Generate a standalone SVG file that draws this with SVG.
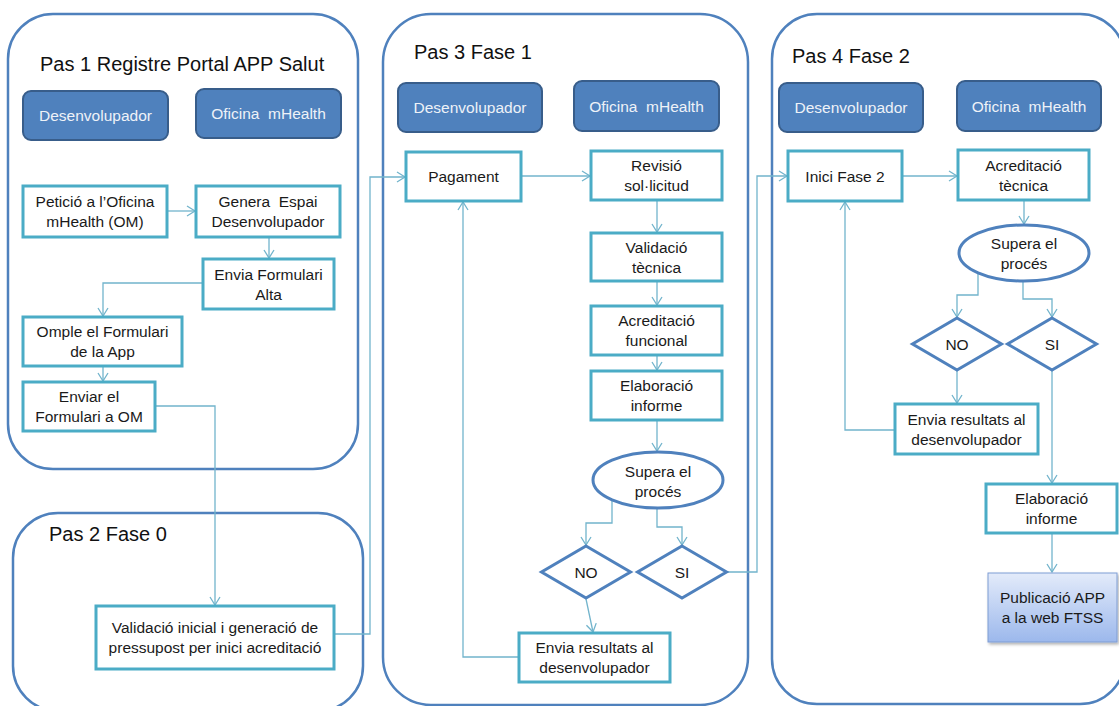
<svg xmlns="http://www.w3.org/2000/svg" width="1119" height="706" viewBox="0 0 1119 706">
<defs>
<style>
.panel{fill:none;stroke:#4F81BD;stroke-width:2.5}
.title{font-family:"Liberation Sans",Arial,sans-serif;font-size:20px;fill:#111}
.hdr rect{fill:#4F81BD;stroke:#385D8A;stroke-width:2}
.hdr text{font-family:"Liberation Sans",Arial,sans-serif;font-size:15.5px;fill:#EEF2F8;text-anchor:middle}
.box rect{fill:#fff;stroke:#4BACC6;stroke-width:3}
.dec ellipse,.dec polygon{fill:#fff;stroke:#4F81BD;stroke-width:3}
.box text,.dec text,.pub text{font-family:"Liberation Sans",Arial,sans-serif;font-size:15.5px;fill:#1a1a1a;text-anchor:middle}
.pub rect{fill:url(#pubg);stroke:#7F9DD3;stroke-width:1}
#connectors path{fill:none;stroke:#72B4CC;stroke-width:1.3;marker-end:url(#arr)}
</style>
<marker id="arr" markerUnits="userSpaceOnUse" markerWidth="12" markerHeight="12" refX="9" refY="6" orient="auto">
<path d="M1,1 L9,6 L1,11" fill="none" stroke="#72B4CC" stroke-width="1.3"/>
</marker>
<linearGradient id="pubg" x1="0" y1="0" x2="0" y2="1">
<stop offset="0" stop-color="#E3EBFA"/>
<stop offset="1" stop-color="#9CB8EC"/>
</linearGradient>
<filter id="sh" x="-10%" y="-10%" width="130%" height="130%">
<feDropShadow dx="1.5" dy="2" stdDeviation="1.5" flood-color="#000" flood-opacity="0.3"/>
</filter>
</defs>
<rect width="1119" height="706" fill="#fff"/>

<g id="panels">
<g id="panel1"><rect class="panel" x="8" y="14" width="350" height="455" rx="45" ry="45"/><text class="title" x="40" y="71">Pas 1 Registre Portal APP Salut</text></g>
<g id="panel2"><rect class="panel" x="13" y="513" width="350" height="198" rx="45" ry="45"/><text class="title" x="49" y="541">Pas 2 Fase 0</text></g>
<g id="panel3"><rect class="panel" x="383" y="14" width="365" height="691" rx="48" ry="48"/><text class="title" x="414" y="59">Pas 3 Fase 1</text></g>
<g id="panel4"><rect class="panel" x="772" y="14" width="353" height="690" rx="45" ry="45"/><text class="title" x="792" y="63">Pas 4 Fase 2</text></g>
</g>

<g id="connectors">
<path d="M167,211 H195"/>
<path d="M269,237 V258"/>
<path d="M203,283 H103 V316"/>
<path d="M103,366 V381"/>
<path d="M155,406 H215 V605"/>
<path d="M334,634 H370 V177 H405"/>
<path d="M521,176 H590"/>
<path d="M657,200 V232"/>
<path d="M657,281 V305"/>
<path d="M657,355 V370"/>
<path d="M657,420 V451"/>
<path d="M612,500 V523 H586 V545"/>
<path d="M657,508 V527 H682 V545"/>
<path d="M726,572 H757 V176 H787"/>
<path d="M586,599 L593,632"/>
<path d="M519,657 H463 V202"/>
<path d="M902,176 H957"/>
<path d="M1024,200 V224"/>
<path d="M978,273 V295 H957 V317"/>
<path d="M1023,281 V299 H1052 V317"/>
<path d="M957,370 V403"/>
<path d="M895,430 H845 V202"/>
<path d="M1052,370 V483"/>
<path d="M1052,533 V572"/>
</g>

<g id="p1-dev" class="hdr"><rect x="23" y="91" width="145" height="49" rx="8"/><text x="95.5" y="121">Desenvolupador</text></g>
<g id="p1-om" class="hdr"><rect x="196" y="89" width="145" height="49" rx="8"/><text x="268.5" y="119">Oficina&#160; mHealth</text></g>
<g id="p1-peticio" class="box"><rect x="23" y="186" width="144" height="51"/><text x="95" y="207">Petició a l’Oficina</text><text x="95" y="227">mHealth (OM)</text></g>
<g id="p1-genera" class="box"><rect x="196" y="186" width="144" height="51"/><text x="268" y="207">Genera&#160; Espai</text><text x="268" y="227">Desenvolupador</text></g>
<g id="p1-envia" class="box"><rect x="203" y="259" width="131" height="50"/><text x="268.5" y="279.5">Envia Formulari</text><text x="268.5" y="299.5">Alta</text></g>
<g id="p1-omple" class="box"><rect x="23" y="317" width="159" height="49"/><text x="102.5" y="337">Omple el Formulari</text><text x="102.5" y="357">de la App</text></g>
<g id="p1-enviar" class="box"><rect x="23" y="382" width="132" height="49"/><text x="89" y="402">Enviar el</text><text x="89" y="422">Formulari a OM</text></g>

<g id="p2-validacio" class="box"><rect x="96" y="606" width="238" height="63"/><text x="215" y="633">Validació inicial i generació de</text><text x="215" y="653">pressupost per inici acreditació</text></g>

<g id="p3-dev" class="hdr"><rect x="398" y="83" width="144" height="49" rx="8"/><text x="470" y="113">Desenvolupador</text></g>
<g id="p3-om" class="hdr"><rect x="574" y="81" width="145" height="50" rx="8"/><text x="646.5" y="112">Oficina&#160; mHealth</text></g>
<g id="p3-pagament" class="box"><rect x="406" y="152" width="115" height="49"/><text x="463.5" y="182">Pagament</text></g>
<g id="p3-revisio" class="box"><rect x="591" y="151" width="131" height="49"/><text x="656.5" y="171">Revisió</text><text x="656.5" y="191">sol·licitud</text></g>
<g id="p3-valtec" class="box"><rect x="591" y="233" width="131" height="48"/><text x="656.5" y="252.5">Validació</text><text x="656.5" y="272.5">tècnica</text></g>
<g id="p3-acrfun" class="box"><rect x="591" y="306" width="131" height="49"/><text x="656.5" y="326">Acreditació</text><text x="656.5" y="346">funcional</text></g>
<g id="p3-elab" class="box"><rect x="591" y="371" width="131" height="49"/><text x="656.5" y="391">Elaboració</text><text x="656.5" y="411">informe</text></g>
<g id="p3-supera" class="dec"><ellipse cx="658" cy="480" rx="65" ry="28"/><text x="658" y="477">Supera el</text><text x="658" y="497">procés</text></g>
<g id="p3-no" class="dec"><polygon points="586,546 630.5,572 586,598 541.5,572"/><text x="586" y="578">NO</text></g>
<g id="p3-si" class="dec"><polygon points="682,546 726.5,572 682,598 637.5,572"/><text x="682" y="578">SI</text></g>
<g id="p3-envia" class="box"><rect x="519" y="633" width="151" height="49"/><text x="594.5" y="653">Envia resultats al</text><text x="594.5" y="673">desenvolupador</text></g>

<g id="p4-dev" class="hdr"><rect x="779" y="83" width="144" height="49" rx="8"/><text x="851" y="113">Desenvolupador</text></g>
<g id="p4-om" class="hdr"><rect x="957" y="81" width="144" height="50" rx="8"/><text x="1029" y="112">Oficina&#160; mHealth</text></g>
<g id="p4-inici" class="box"><rect x="788" y="151" width="114" height="50"/><text x="845" y="182">Inici Fase 2</text></g>
<g id="p4-acrtec" class="box"><rect x="958" y="150" width="131" height="50"/><text x="1023.5" y="170.5">Acreditació</text><text x="1023.5" y="190.5">tècnica</text></g>
<g id="p4-supera" class="dec"><ellipse cx="1024" cy="253" rx="65" ry="28"/><text x="1024" y="249">Supera el</text><text x="1024" y="269">procés</text></g>
<g id="p4-no" class="dec"><polygon points="957,318 1001.5,344 957,370 912.5,344"/><text x="957" y="350">NO</text></g>
<g id="p4-si" class="dec"><polygon points="1052,318 1096.5,344 1052,370 1007.5,344"/><text x="1052" y="350">SI</text></g>
<g id="p4-envia" class="box"><rect x="895" y="404" width="143" height="50"/><text x="966.5" y="424.5">Envia resultats al</text><text x="966.5" y="444.5">desenvolupador</text></g>
<g id="p4-elab" class="box"><rect x="986" y="484" width="131" height="49"/><text x="1051.5" y="504">Elaboració</text><text x="1051.5" y="524">informe</text></g>
<g id="p4-publicacio" class="pub"><rect x="988" y="573" width="129" height="69" filter="url(#sh)"/><text x="1052.5" y="603">Publicació APP</text><text x="1052.5" y="623">a la web FTSS</text></g>
</svg>
